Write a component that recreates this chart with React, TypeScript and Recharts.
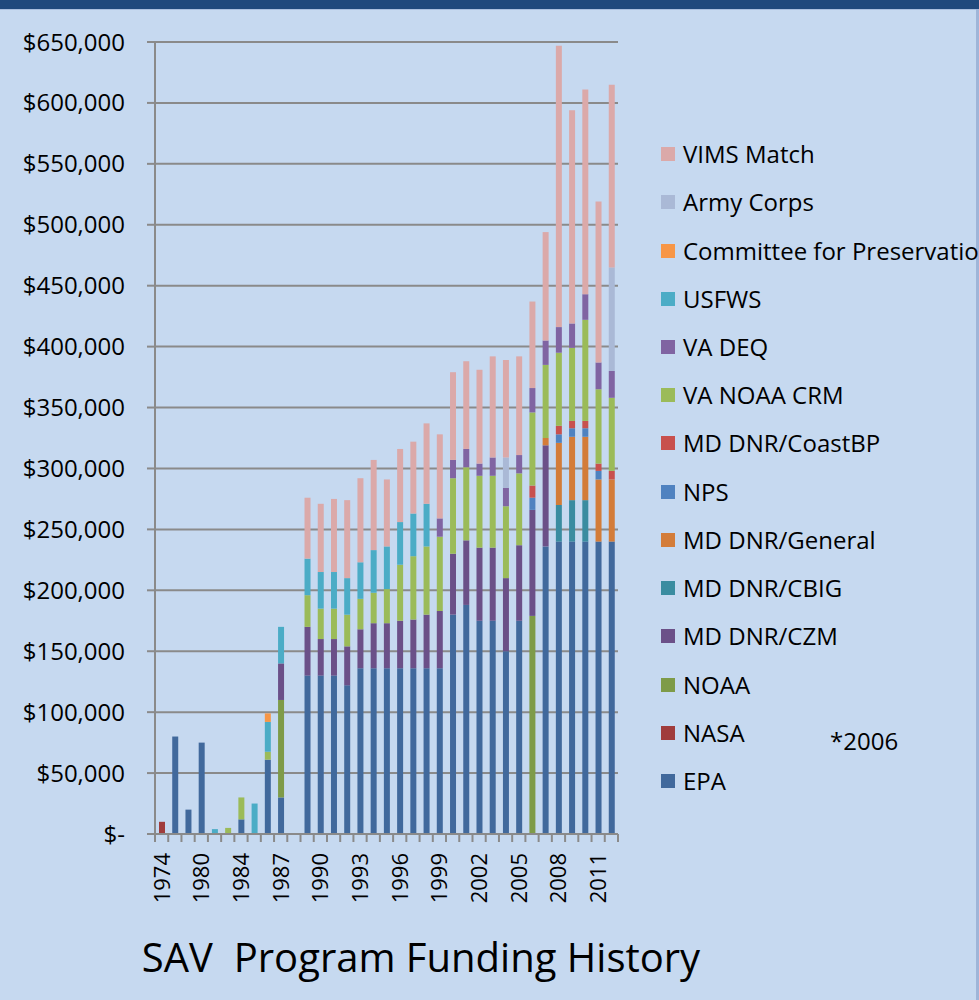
import React from 'react';
import { BarChart, Bar, XAxis, YAxis, CartesianGrid, Legend } from 'recharts';

// categories (the early years are uneven, only every third one is labelled)
const years = [
  '1974', '1976', '1978', '1980', '1981', '1982', '1984', '1985', '1986', '1987', '1988', '1989',
  '1990', '1991', '1992', '1993', '1994', '1995', '1996', '1997', '1998', '1999', '2000', '2001',
  '2002', '2003', '2004', '2005', '2006', '2007', '2008', '2009', '2010', '2011', '2012',
];

// funding by source, $ per year (bottom of the stack first)
const epa = [0, 80000, 20000, 75000, 0, 0, 12000, 0, 61000, 30000, 0, 130000, 130000, 130000, 122000, 136000, 136000, 136000, 136000, 136000, 136000, 136000, 180000, 188000, 175000, 175000, 150000, 175000, 0, 236000, 240000, 240000, 240000, 240000, 240000];
const nasa = [10000, 0, 0, 0, 0, 0, 0, 0, 0, 0, 0, 0, 0, 0, 0, 0, 0, 0, 0, 0, 0, 0, 0, 0, 0, 0, 0, 0, 0, 0, 0, 0, 0, 0, 0];
const noaa = [0, 0, 0, 0, 0, 0, 0, 0, 0, 80000, 0, 0, 0, 0, 0, 0, 0, 0, 0, 0, 0, 0, 0, 0, 0, 0, 0, 0, 179000, 0, 0, 0, 0, 0, 0];
const mdCzm = [0, 0, 0, 0, 0, 0, 0, 0, 0, 30000, 0, 40000, 30000, 30000, 32000, 32000, 37000, 37000, 39000, 40000, 44000, 47000, 50000, 53000, 60000, 60000, 60000, 62000, 87000, 83000, 0, 0, 0, 0, 0];
const mdCbig = [0, 0, 0, 0, 0, 0, 0, 0, 0, 0, 0, 0, 0, 0, 0, 0, 0, 0, 0, 0, 0, 0, 0, 0, 0, 0, 0, 0, 0, 0, 30000, 34000, 34000, 0, 0];
const mdGeneral = [0, 0, 0, 0, 0, 0, 0, 0, 0, 0, 0, 0, 0, 0, 0, 0, 0, 0, 0, 0, 0, 0, 0, 0, 0, 0, 0, 0, 0, 6000, 51000, 52000, 52000, 51000, 51000];
const nps = [0, 0, 0, 0, 0, 0, 0, 0, 0, 0, 0, 0, 0, 0, 0, 0, 0, 0, 0, 0, 0, 0, 0, 0, 0, 0, 0, 0, 10000, 0, 7000, 7000, 7000, 7000, 0];
const mdCoast = [0, 0, 0, 0, 0, 0, 0, 0, 0, 0, 0, 0, 0, 0, 0, 0, 0, 0, 0, 0, 0, 0, 0, 0, 0, 0, 0, 0, 10000, 0, 7000, 6000, 6000, 6000, 7000];
const vaNoaa = [0, 0, 0, 0, 0, 5000, 18000, 0, 6500, 0, 0, 26000, 25000, 25000, 26000, 25000, 25000, 28000, 46000, 52000, 56000, 61000, 62000, 60000, 59000, 59000, 59000, 59000, 60000, 60000, 60000, 60000, 83000, 61000, 60000];
const vaDeq = [0, 0, 0, 0, 0, 0, 0, 0, 0, 0, 0, 0, 0, 0, 0, 0, 0, 0, 0, 0, 0, 15000, 15000, 15000, 10000, 15000, 15000, 15000, 20000, 20000, 21000, 20000, 21000, 22000, 22000];
const usfws = [0, 0, 0, 0, 4000, 0, 0, 25000, 24500, 30000, 0, 30000, 30000, 30000, 30000, 30000, 35000, 35000, 35000, 35000, 35000, 0, 0, 0, 0, 0, 0, 0, 0, 0, 0, 0, 0, 0, 0];
const committee = [0, 0, 0, 0, 0, 0, 0, 0, 7000, 0, 0, 0, 0, 0, 0, 0, 0, 0, 0, 0, 0, 0, 0, 0, 0, 0, 0, 0, 0, 0, 0, 0, 0, 0, 0];
const armyCorps = [0, 0, 0, 0, 0, 0, 0, 0, 0, 0, 0, 0, 0, 0, 0, 0, 0, 0, 0, 0, 0, 0, 0, 0, 0, 0, 25000, 0, 0, 0, 0, 0, 0, 0, 85000];
const vims = [0, 0, 0, 0, 0, 0, 0, 0, 0, 0, 0, 50000, 56000, 60000, 64000, 69000, 74000, 55000, 60000, 59000, 66000, 69000, 72000, 72000, 77000, 83000, 80000, 81000, 71000, 89000, 231000, 175000, 168000, 132000, 150000];

const yTicks = [0, 50000, 100000, 150000, 200000, 250000, 300000, 350000, 400000, 450000, 500000, 550000, 600000, 650000];

const series = [
  { key: 'epa', name: 'EPA', values: epa, color: '#41699c' },
  { key: 'nasa', name: 'NASA', values: nasa, color: '#a03c3c' },
  { key: 'noaa', name: 'NOAA', values: noaa, color: '#7e9b48' },
  { key: 'mdCzm', name: 'MD DNR/CZM', values: mdCzm, color: '#6b5088' },
  { key: 'mdCbig', name: 'MD DNR/CBIG', values: mdCbig, color: '#3a8ca0' },
  { key: 'mdGeneral', name: 'MD DNR/General', values: mdGeneral, color: '#d37c39' },
  { key: 'nps', name: 'NPS', values: nps, color: '#4f82c0' },
  { key: 'mdCoast', name: 'MD DNR/CoastBP', values: mdCoast, color: '#c8504d' },
  { key: 'vaNoaa', name: 'VA NOAA CRM', values: vaNoaa, color: '#9bbb59' },
  { key: 'vaDeq', name: 'VA DEQ', values: vaDeq, color: '#8064a2' },
  { key: 'usfws', name: 'USFWS', values: usfws, color: '#4bacc6' },
  { key: 'committee', name: 'Committee for Preservation', values: committee, color: '#f79646' },
  { key: 'armyCorps', name: 'Army Corps', values: armyCorps, color: '#aab9d6' },
  { key: 'vims', name: 'VIMS Match', values: vims, color: '#dba9a9' },
];

const data = years.map((year, i) => {
  const row: any = { year };
  series.forEach(s => { row[s.key] = s.values[i]; });
  return row;
});

const FONT = '"Open Sans", "Noto Sans", sans-serif';
const BG = '#c6d9f0';
const GRID = '#8a8a8a';
const BAND = 463 / years.length;

const money = (v: number) => (v === 0 ? '$-' : '$' + v.toLocaleString('en-US'));

function YearTick(props: any) {
  const { x, y, payload, index } = props;
  const left = x - BAND / 2;
  const ty = y + 19;
  return (
    <g>
      <line x1={left} x2={left} y1={y} y2={y + 8} stroke={GRID} strokeWidth={2} />
      {index === years.length - 1 && (
        <line x1={x + BAND / 2} x2={x + BAND / 2} y1={y} y2={y + 8} stroke={GRID} strokeWidth={2} />
      )}
      {index % 3 === 0 && (
        <text x={x} y={ty} dy="0.36em" transform={`rotate(-90 ${x} ${ty})`} textAnchor="end"
          fontSize={22} fontFamily={FONT} fill="#000">
          {payload.value}
        </text>
      )}
    </g>
  );
}

function LegendList() {
  return (
    <div style={{ paddingLeft: 43, overflow: 'hidden', whiteSpace: 'nowrap', fontFamily: FONT }}>
      {[...series].reverse().map(s => (
        <div key={s.key} style={{ height: 48.23, display: 'flex', alignItems: 'center' }}>
          <span style={{ width: 14, height: 14, background: s.color, display: 'inline-block', marginRight: 8, flexShrink: 0 }} />
          <span style={{ fontSize: 24, color: '#000', lineHeight: '24px' }}>{s.name}</span>
        </div>
      ))}
    </div>
  );
}

export default function App() {
  return (
    <div style={{ position: 'absolute', left: 0, top: 0, width: 979, height: 1000, background: BG, overflow: 'hidden', fontFamily: FONT }}>
      <div style={{ position: 'absolute', left: 0, top: 0, width: 979, height: 9, background: '#1f497d' }} />
      <div style={{ position: 'absolute', left: 0, top: 9, width: 979, height: 1, background: '#a9bfdf' }} />
      <div style={{ position: 'absolute', left: 976, top: 9, width: 3, height: 991, background: '#9fb5d8' }} />

      <div style={{ position: 'absolute', left: 0, top: 0 }}>
        <BarChart width={979} height={920} data={data} margin={{ top: 42, right: 0, left: 0, bottom: 0 }} barSize={6}>
          <CartesianGrid vertical={false} stroke={GRID} strokeWidth={2} />
          <XAxis dataKey="year" interval={0} height={86} tickSize={0} tickMargin={0}
            axisLine={{ stroke: GRID, strokeWidth: 2 }} tickLine={false} tick={<YearTick />} />
          <YAxis width={155} domain={[0, 650000]} ticks={yTicks} tickFormatter={money}
            tickSize={8} tickMargin={22} axisLine={{ stroke: GRID, strokeWidth: 2 }}
            tickLine={{ stroke: GRID, strokeWidth: 2 }}
            tick={{ fontSize: 24, fill: '#000', fontFamily: FONT }} />
          <Legend layout="vertical" align="right" verticalAlign="top" width={361}
            wrapperStyle={{ left: 618, top: 130, width: 361, overflow: 'hidden' }}
            content={() => <LegendList />} />
          {series.map(s => (
            <Bar key={s.key} dataKey={s.key} name={s.name} stackId="funding" fill={s.color} isAnimationActive={false} />
          ))}
        </BarChart>
      </div>

      <div style={{ position: 'absolute', left: 830, top: 724, fontSize: 24, color: '#000', lineHeight: '34px' }}>*2006</div>
      <div style={{ position: 'absolute', left: 0, width: 842, top: 930, textAlign: 'center', fontSize: 40, color: '#000', whiteSpace: 'pre', lineHeight: '54px' }}>
        SAV  Program Funding History
      </div>
    </div>
  );
}
